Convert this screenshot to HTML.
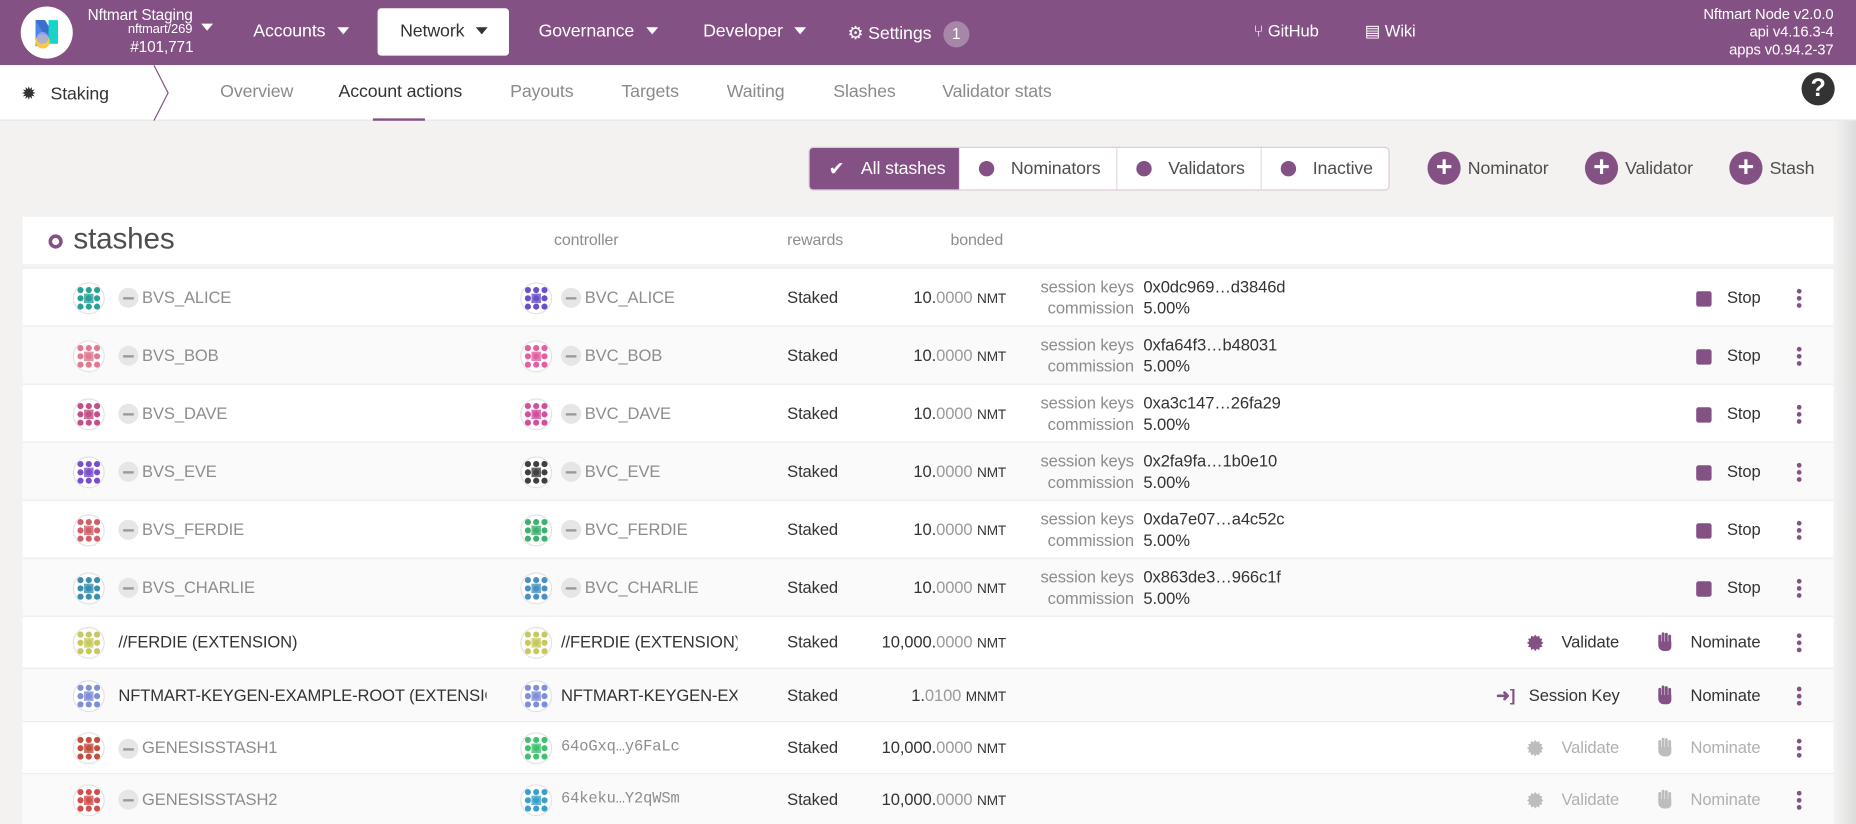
<!DOCTYPE html>
<html><head><meta charset="utf-8">
<style>
*{box-sizing:border-box;margin:0;padding:0}
html,body{width:1856px;height:824px;overflow:hidden;background:#f3f2f1;font-family:"Liberation Sans",sans-serif}
#root{width:1568px;height:696px;transform:scale(1.18367,1.18391);transform-origin:0 0;position:relative;background:#f3f2f1;color:#4e4e4e;letter-spacing:-0.1px}
.abs{position:absolute;white-space:nowrap}
#hdr{position:absolute;left:0;top:0;width:1568px;height:55px;background:#845185;color:#fff}
.menu{font-size:15px;top:18px}
.caret{display:inline-block;width:0;height:0;border-left:5px solid transparent;border-right:5px solid transparent;border-top:6px solid #fff;margin-left:10px;vertical-align:2px}
#sub{position:absolute;left:0;top:55px;width:1568px;height:47px;background:#fff;border-bottom:1px solid #e8e6e4}
.tab{top:14px;font-size:15px;color:#8a8a8a}
.grp{position:absolute;top:124px;height:37px;background:#fff;border:1px solid #dcccdc;border-radius:4px;display:flex;font-size:15px}
.gi{height:35px;display:flex;align-items:center;padding-left:16px;border-right:1px solid #e5dde5;color:#4e4e4e}
.dot{width:13px;height:13px;border-radius:50%;background:#845185;margin-right:14px}
.plus{position:absolute;top:128px;height:28px;display:flex;align-items:center;font-size:15px;color:#4e4e4e}
.pc{width:28px;height:28px;border-radius:50%;background:#845185;color:#fff;font-size:24px;line-height:28px;text-align:center;margin-right:6px;font-weight:bold}
#card{position:absolute;left:19px;top:183px;width:1530px;height:40px;background:#fff}
.row{position:absolute;left:19px;width:1530px;border-top:1px solid #ececec}
.cell{position:absolute;white-space:nowrap;font-size:14px}
.mn{position:absolute;width:17px;height:17px;border-radius:50%;background:#e6e6e6}
.mn:after{content:"";position:absolute;left:4px;top:8px;width:9px;height:2px;background:#9a9a9a}
.sq{position:absolute;width:13px;height:13px;background:#845185;border-radius:2px}
.kb{position:absolute;width:4px;height:16px}
.kb i{display:block;width:4px;height:4px;border-radius:50%;background:#845185;margin-bottom:2px}
.ic{display:inline-block;vertical-align:-3px}
</style></head><body>
<div id="root">
<div id="hdr">
  <svg class="abs" style="left:17px;top:5px" width="45" height="45"><circle cx="22.5" cy="22.5" r="22" fill="#fff"/><rect x="13" y="12" width="8" height="22" fill="#4a86e8"/><polygon points="13,12 21,12 32,30 24,30" fill="#3a6fd0"/><rect x="24" y="12" width="8" height="20" fill="#16d4c8"/><circle cx="19" cy="30" r="6" fill="#f7c948"/><circle cx="19" cy="27" r="5" fill="#a0a8f0" opacity=".8"/></svg>
  <div class="abs" style="left:74px;top:5px;font-size:13px">Nftmart Staging</div>
  <div class="abs" style="left:108px;top:19px;font-size:11px">nftmart/269 <span class="caret" style="margin-left:4px"></span></div>
  <div class="abs" style="left:110px;top:32px;font-size:13px">#101,771</div>
  <div class="abs menu" style="left:214px">Accounts<span class="caret"></span></div>
  <div class="abs" style="left:319px;top:7px;width:111px;height:40px;background:#fff;border-radius:3px;color:#333;font-size:15px;padding:11px 0 0 19px">Network<span class="caret" style="border-top-color:#333"></span></div>
  <div class="abs menu" style="left:455px">Governance<span class="caret"></span></div>
  <div class="abs menu" style="left:594px">Developer<span class="caret"></span></div>
  <div class="abs menu" style="left:716px">⚙ Settings <span style="display:inline-block;width:22px;height:22px;border-radius:50%;background:#a787a8;text-align:center;line-height:22px;font-size:13px;margin-left:6px">1</span></div>
  <div class="abs menu" style="left:1059px;font-size:14px">⑂ GitHub</div>
  <div class="abs menu" style="left:1153px;font-size:14px">▤ Wiki</div>
  <div class="abs" style="right:19px;top:5px;font-size:12.5px;text-align:right;line-height:15px">Nftmart Node v2.0.0<br>api v4.16.3-4<br>apps v0.94.2-37</div>
</div>
<div id="sub">
  <div class="abs" style="left:18px;top:15px;font-size:15px;color:#333"><span style="font-size:15px">✹</span>&nbsp;&nbsp; Staking</div>
  <svg class="abs" style="left:128px;top:0" width="16" height="47"><polyline points="2,0 14,23.5 2,47" fill="none" stroke="#845185" stroke-width="1"/></svg>
  <div class="abs tab" style="left:186px">Overview</div>
  <div class="abs tab" style="left:286px;color:#333">Account actions</div>
  <div class="abs" style="left:315px;top:45px;width:44px;height:2px;background:#845185"></div>
  <div class="abs tab" style="left:431px">Payouts</div>
  <div class="abs tab" style="left:525px">Targets</div>
  <div class="abs tab" style="left:614px">Waiting</div>
  <div class="abs tab" style="left:704px">Slashes</div>
  <div class="abs tab" style="left:796px">Validator stats</div>
  <div class="abs" style="left:1522px;top:6px;width:28px;height:28px;border-radius:50%;background:#333;color:#fff;font-weight:bold;font-size:21px;text-align:center;line-height:28px">?</div>
</div>
<div class="grp" style="left:683px;width:491px">
  <div class="gi" style="width:127px;background:#845185;color:#fff;border-radius:3px 0 0 3px"><span style="font-size:16px;margin-right:14px">✔</span>All stashes</div>
  <div class="gi" style="width:133px"><span class="dot"></span>Nominators</div>
  <div class="gi" style="width:122px"><span class="dot"></span>Validators</div>
  <div class="gi" style="width:107px;border-right:none"><span class="dot"></span>Inactive</div>
</div>
<div class="plus" style="left:1206px"><span class="pc">+</span>Nominator</div>
<div class="plus" style="left:1339px"><span class="pc">+</span>Validator</div>
<div class="plus" style="left:1461px"><span class="pc">+</span>Stash</div>
<div id="card">
  <div class="abs" style="left:22px;top:15px;width:12px;height:12px;border-radius:50%;border:3.5px solid #845185"></div>
  <div class="abs" style="left:43px;top:5px;font-size:25px;color:#4e4e4e">stashes</div>
  <div class="abs" style="left:449px;top:12px;font-size:13.5px;color:#8d8d8d">controller</div>
  <div class="abs" style="left:646px;top:12px;font-size:13.5px;color:#8d8d8d">rewards</div>
  <div class="abs" style="left:784px;top:12px;font-size:13.5px;color:#8d8d8d">bonded</div>
</div>
<div id="rows"></div>
<div class="abs" style="left:1550px;top:102px;width:18px;height:594px;background:linear-gradient(90deg,#f3f2f1,#dcdcdc)"></div>
</div>
<script>
const stashNames=["BVS_ALICE","BVS_BOB","BVS_DAVE","BVS_EVE","BVS_FERDIE","BVS_CHARLIE","//FERDIE (EXTENSION)","NFTMART-KEYGEN-EXAMPLE-ROOT (EXTENSION","GENESISSTASH1","GENESISSTASH2"];
const ctrlNames=["BVC_ALICE","BVC_BOB","BVC_DAVE","BVC_EVE","BVC_FERDIE","BVC_CHARLIE","//FERDIE (EXTENSION)","NFTMART-KEYGEN-EXA","64oGxq…y6FaLc","64keku…Y2qWSm"];
const bondedInt=["10","10","10","10","10","10","10,000","1","10,000","10,000"];
const bondedDec=["0000","0000","0000","0000","0000","0000","0000","0100","0000","0000"];
const units=["NMT","NMT","NMT","NMT","NMT","NMT","NMT","MNMT","NMT","NMT"];
const sessionKeys=["0x0dc969…d3846d","0xfa64f3…b48031","0xa3c147…26fa29","0x2fa9fa…1b0e10","0xda7e07…a4c52c","0x863de3…966c1f"];
const stashColors=["#2aa198","#e07a90","#c0508a","#7b4fc9","#d0606a","#3a8fb0","#c8c860","#7f8fd8","#c05040","#d05050"];
const ctrlColors=["#6a50c8","#e060a0","#d050a0","#404040","#40b070","#4a90c0","#c8c860","#7f8fd8","#40c070","#3aa0c8"];
const rowH=[49,49,49,49,49,49,44,45,44,43];
const root=document.getElementById('rows');
function handSvg(c){return '<svg class="ic" width="13" height="16" viewBox="0 0 13 16"><rect x="1" y="2" width="2.4" height="8" rx="1.2" fill="'+c+'"/><rect x="3.8" y="0" width="2.4" height="9" rx="1.2" fill="'+c+'"/><rect x="6.6" y="0.5" width="2.4" height="9" rx="1.2" fill="'+c+'"/><rect x="9.4" y="2" width="2.4" height="8" rx="1.2" fill="'+c+'"/><path d="M1 8 H12 V12 Q12 16 7 16 Q2 16 1 12Z" fill="'+c+'"/></svg>';}
function starSvg(c){let p='';for(let k=0;k<24;k++){const a=k*Math.PI/12,r=k%2?5.3:7;p+=(7+r*Math.cos(a)).toFixed(2)+','+(7+r*Math.sin(a)).toFixed(2)+' ';}return '<svg class="ic" width="14" height="14"><polygon points="'+p+'" fill="'+c+'"/></svg>';}
function ident(x,y,c){
  const s=document.createElementNS('http://www.w3.org/2000/svg','svg');
  s.setAttribute('width','28');s.setAttribute('height','28');
  s.style.cssText='position:absolute;left:'+x+'px;top:'+y+'px';
  let h='<circle cx="14" cy="14" r="13" fill="#fff" stroke="#e2e2e2"/>';
  for(let i=0;i<3;i++)for(let j=0;j<3;j++){h+='<circle cx="'+(7+i*7)+'" cy="'+(7+j*7)+'" r="2.6" fill="'+c+'"/>';}
  h+='<rect x="10" y="10" width="8" height="8" fill="'+c+'" opacity=".8"/>';
  s.innerHTML=h;return s;
}
let y=226;
stashNames.forEach((n,i)=>{
  const h=rowH[i];
  const r=document.createElement('div');
  r.className='row';
  
  
  r.style.top=y+'px';r.style.height=h+'px';r.style.background=i%2?'#fafafa':'#fff';
  const mid=h/2;
  const a=ident(42,mid-14,stashColors[i]);
  
  
  r.appendChild(a);
  const hasMinus=(i<6||i>7);
  let nx=81;
  if(hasMinus){const m=document.createElement('div');m.className='mn';m.style.left='81px';m.style.top=(mid-8.5)+'px';
    
    
    r.appendChild(m);nx=101;}
  const sn=document.createElement('div');sn.className='cell';sn.style.left=nx+'px';sn.style.top=(mid-9)+'px';sn.style.color=hasMinus?'#8d8d8d':'#333';
  sn.style.maxWidth=(392-nx)+'px';sn.style.overflow='hidden';
  sn.textContent=n;
  
  
  r.appendChild(sn);
  const b=ident(420,mid-14,ctrlColors[i]);
  
  
  r.appendChild(b);
  let cx=455;
  if(i<6){const m=document.createElement('div');m.className='mn';m.style.left='455px';m.style.top=(mid-8.5)+'px';
    
    
    r.appendChild(m);cx=475;}
  const cn=document.createElement('div');cn.className='cell';cn.style.left=cx+'px';cn.style.top=(mid-9)+'px';
  cn.style.color=(i===6||i===7)?'#333':'#8d8d8d';
  cn.style.maxWidth=(604-cx)+'px';cn.style.overflow='hidden';
  if(i>7){cn.style.fontFamily='"Liberation Mono",monospace';cn.style.fontSize='13px';}
  cn.textContent=ctrlNames[i];
  
  
  r.appendChild(cn);
  const st=document.createElement('div');st.className='cell';st.style.left='646px';st.style.top=(mid-9)+'px';st.style.color='#333';st.textContent='Staked';
  
  
  r.appendChild(st);
  const bd=document.createElement('div');bd.className='cell';bd.style.right=(1530-831)+'px';bd.style.top=(mid-9)+'px';bd.style.color='#333';
  bd.innerHTML=bondedInt[i]+'.<span style="color:#9a9a9a">'+bondedDec[i]+'</span> <span style="font-size:11.5px">'+units[i]+'</span>';
  
  
  r.appendChild(bd);
  if(i<6){
    const lb=document.createElement('div');lb.className='cell';lb.style.right=(1530-939)+'px';lb.style.top='6px';lb.style.color='#8d8d8d';lb.style.textAlign='right';lb.style.lineHeight='18px';
    lb.innerHTML='session keys<br>commission';
    
    
    r.appendChild(lb);
    const vl=document.createElement('div');vl.className='cell';vl.style.left='947px';vl.style.top='6px';vl.style.color='#333';vl.style.lineHeight='18px';
    vl.innerHTML=sessionKeys[i]+'<br>5.00%';
    
    
    r.appendChild(vl);
    const sb=document.createElement('div');sb.className='cell';sb.style.left='1414px';sb.style.top=(mid-9)+'px';sb.style.color='#333';
    sb.innerHTML='<span class="sq" style="left:0;top:3px"></span><span style="margin-left:26px">Stop</span>';
    
    
    r.appendChild(sb);
  } else {
    const dis=i>7;const col=dis?'#bdbdbd':'#845185';const tc=dis?'#b0b0b0':'#333';
    const v=document.createElement('div');v.className='cell';v.style.top=(mid-9)+'px';v.style.color=tc;
    if(i===7){v.style.left='1245px';v.innerHTML='<span style="color:'+col+';font-weight:bold">➜]</span>&nbsp;&nbsp; Session Key';
      }
    else {v.style.left='1271px';v.innerHTML=starSvg(col)+'&nbsp;&nbsp;&nbsp; Validate';
      }
    
    r.appendChild(v);
    const nb=document.createElement('div');nb.className='cell';nb.style.left='1381px';nb.style.top=(mid-9)+'px';nb.style.color=tc;
    nb.innerHTML=handSvg(col)+'&nbsp;&nbsp;&nbsp; Nominate';
    
    
    r.appendChild(nb);
  }
  const k=document.createElement('div');k.className='kb';k.style.left='1499px';k.style.top=(mid-8)+'px';k.innerHTML='<i></i><i></i><i></i>';
  
  
  r.appendChild(k);
  root.appendChild(r);
  y+=h;
});
</script>
</body></html>
